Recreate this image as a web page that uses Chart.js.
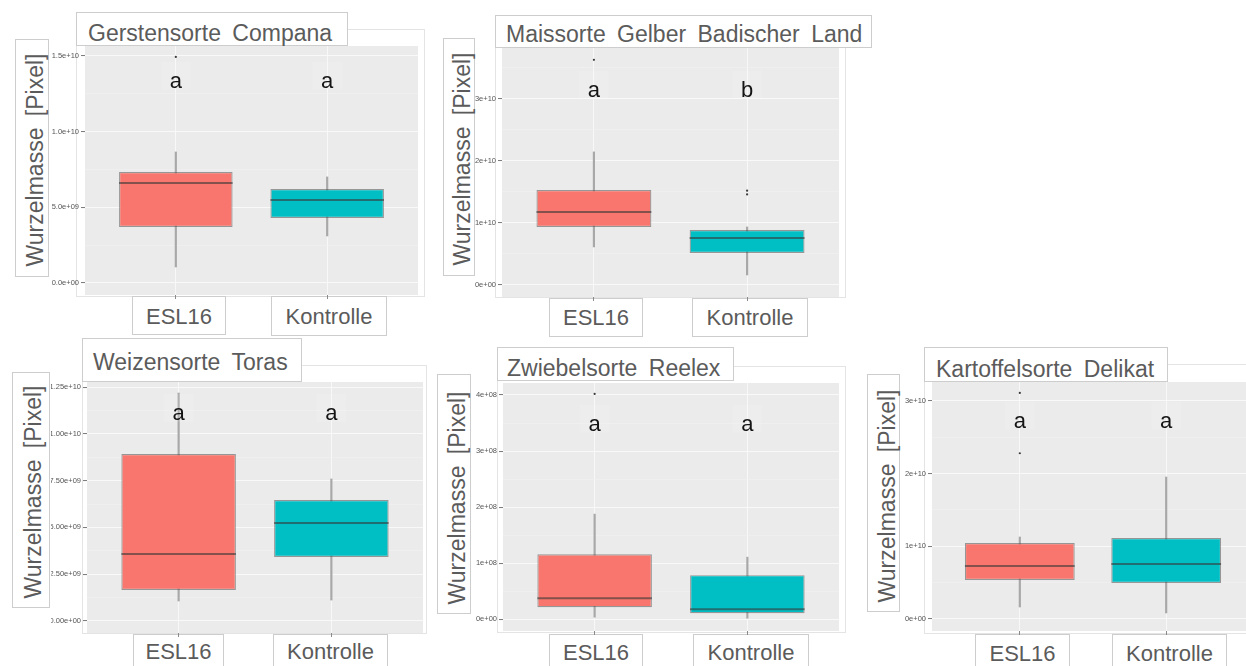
<!doctype html>
<html lang="de">
<head>
<meta charset="utf-8">
<title>Wurzelmasse</title>
<style>
  html, body { margin: 0; padding: 0; background: #fff; }
  body { width: 1246px; height: 666px; position: relative; overflow: hidden;
         font-family: "Liberation Sans", Arial, sans-serif; }
  .frame { position: absolute; border: 1px solid #e4e4e4; box-sizing: border-box; }
  .tbox { position: absolute; background: #fff; border: 1px solid #cdcdcd; box-sizing: border-box; }
  .txt { position: absolute; white-space: nowrap; color: #5b5b5b; }
  .title { font-size: 23px; line-height: 26px; word-spacing: 5px; }
  .ytitle { font-size: 23px; line-height: 26px; word-spacing: 5px; transform: translate(-50%, -50%) rotate(-90deg); }
  .xlab { font-size: 22px; line-height: 25px; transform: translateX(-50%); }
  canvas { position: absolute; }
</style>
</head>
<body>

<script src="https://cdn.jsdelivr.net/npm/chart.js"></script>
<script>
  // ---- data ----
  const categories = ['ESL16', 'Kontrolle'];
  const yAxisTitle = 'Wurzelmasse [Pixel]';

  // Gerstensorte Compana
  const gersteWhiskerLow  = [1.06e9, 3.11e9];
  const gersteQ1          = [3.70e9, 4.30e9];
  const gersteMedian      = [6.61e9, 5.49e9];
  const gersteQ3          = [7.34e9, 6.21e9];
  const gersteWhiskerHigh = [8.66e9, 7.01e9];
  const gersteOutliers    = [[1.494e10], []];
  const gersteLetters     = ['a', 'a'];
  const gersteTicks       = [0, 5e9, 1e10, 1.5e10];
  const gersteTickLabels  = ['0.0e+00', '5.0e+09', '1.0e+10', '1.5e+10'];

  // Maissorte Gelber Badischer Land
  const maisWhiskerLow  = [6.13e9, 1.61e9];
  const maisQ1          = [9.35e9, 5.16e9];
  const maisMedian      = [1.177e10, 7.58e9];
  const maisQ3          = [1.532e10, 8.87e9];
  const maisWhiskerHigh = [2.145e10, 9.35e9];
  const maisOutliers    = [[3.63e10], [1.52e10, 1.46e10]];
  const maisLetters     = ['a', 'b'];
  const maisTicks       = [0, 1e10, 2e10, 3e10];
  const maisTickLabels  = ['0e+00', '1e+10', '2e+10', '3e+10'];

  // Weizensorte Toras
  const weizenWhiskerLow  = [1.07e9, 1.12e9];
  const weizenQ1          = [1.66e9, 3.42e9];
  const weizenMedian      = [3.58e9, 5.24e9];
  const weizenQ3          = [8.92e9, 6.46e9];
  const weizenWhiskerHigh = [1.218e10, 7.59e9];
  const weizenOutliers    = [[], []];
  const weizenLetters     = ['a', 'a'];
  const weizenTicks       = [0, 2.5e9, 5e9, 7.5e9, 1e10, 1.25e10];
  const weizenTickLabels  = ['0.00e+00', '2.50e+09', '5.00e+09', '7.50e+09', '1.00e+10', '1.25e+10'];

  // Zwiebelsorte Reelex
  const zwiebelWhiskerLow  = [3.6e6, 1.8e6];
  const zwiebelQ1          = [2.14e7, 1.07e7];
  const zwiebelMedian      = [3.75e7, 1.79e7];
  const zwiebelQ3          = [1.16e8, 7.86e7];
  const zwiebelWhiskerHigh = [1.875e8, 1.107e8];
  const zwiebelOutliers    = [[4.02e8], []];
  const zwiebelLetters     = ['a', 'a'];
  const zwiebelTicks       = [0, 1e8, 2e8, 3e8, 4e8];
  const zwiebelTickLabels  = ['0e+00', '1e+08', '2e+08', '3e+08', '4e+08'];

  // Kartoffelsorte Delikat
  const kartoffelWhiskerLow  = [1.65e9, 8.3e8];
  const kartoffelQ1          = [5.36e9, 4.95e9];
  const kartoffelMedian      = [7.29e9, 7.57e9];
  const kartoffelQ3          = [1.045e10, 1.114e10];
  const kartoffelWhiskerHigh = [1.128e10, 1.953e10];
  const kartoffelOutliers    = [[3.11e10, 2.28e10], []];
  const kartoffelLetters     = ['a', 'a'];
  const kartoffelTicks       = [0, 1e10, 2e10, 3e10];
  const kartoffelTickLabels  = ['0e+00', '1e+10', '2e+10', '3e+10'];

  const fillColors = ['#F8766D', '#00BFC4'];

  // ---- where each panel sits on the slide ----
  const panels = [
    { title: 'Gerstensorte Compana', plot: [85, 46, 422, 295], yRange: [-0.79e9, 1.566e10], letterBase: 1.289e10,
      titleBox: [76, 12, 348, 46], titleText: [88, 33], frame: [76, 29, 425, 297],
      yBox: [15, 39, 49, 277], yText: [34.5, 160], xBoxes: [[132, 296, 226, 335], [271, 296, 387, 336]], xTextY: 316,
      low: gersteWhiskerLow, q1: gersteQ1, med: gersteMedian, q3: gersteQ3, high: gersteWhiskerHigh,
      out: gersteOutliers, letters: gersteLetters, ticks: gersteTicks, tickLabels: gersteTickLabels },
    { title: 'Maissorte Gelber Badischer Land', plot: [502, 48, 843, 297], yRange: [-1.94e9, 3.82e10], letterBase: 3.03e10,
      titleBox: [495, 15, 872, 48], titleText: [506, 33.5], frame: [495, 40, 846, 298],
      yBox: [443, 38, 475, 276], yText: [461.5, 159], xBoxes: [[549, 298, 643, 337], [692, 298, 808, 337]], xTextY: 317,
      low: maisWhiskerLow, q1: maisQ1, med: maisMedian, q3: maisQ3, high: maisWhiskerHigh,
      out: maisOutliers, letters: maisLetters, ticks: maisTicks, tickLabels: maisTickLabels },
    { title: 'Weizensorte Toras', plot: [87, 382, 423, 633], yRange: [-0.64e9, 1.277e10], letterBase: 1.074e10,
      titleBox: [82, 338, 302, 382], titleText: [93, 362], frame: [82, 365, 427, 634],
      yBox: [12, 372, 50, 608], yText: [33, 492], xBoxes: [[133, 634, 224, 690], [273, 634, 388, 690]], xTextY: 651,
      low: weizenWhiskerLow, q1: weizenQ1, med: weizenMedian, q3: weizenQ3, high: weizenWhiskerHigh,
      out: weizenOutliers, letters: weizenLetters, ticks: weizenTicks, tickLabels: weizenTickLabels },
    { title: 'Zwiebelsorte Reelex', plot: [503, 383, 843, 631], yRange: [-0.21e8, 4.214e8], letterBase: 3.36e8,
      titleBox: [497, 347, 734, 381], titleText: [507, 368], frame: [497, 366, 846, 633],
      yBox: [437, 374, 471, 614], yText: [456.5, 497.5], xBoxes: [[549, 634, 643, 690], [693, 634, 809, 690]], xTextY: 652,
      low: zwiebelWhiskerLow, q1: zwiebelQ1, med: zwiebelMedian, q3: zwiebelQ3, high: zwiebelWhiskerHigh,
      out: zwiebelOutliers, letters: zwiebelLetters, ticks: zwiebelTicks, tickLabels: zwiebelTickLabels },
    { title: 'Kartoffelsorte Delikat', plot: [932, 382, 1258, 631], yRange: [-1.65e9, 3.26e10], letterBase: 2.63e10,
      titleBox: [924, 347, 1168, 382], titleText: [936, 369], frame: [924, 364, 1262, 634],
      yBox: [867, 374, 900, 612], yText: [887, 495.5], xBoxes: [[975, 634, 1070, 690], [1112, 634, 1227, 690]], xTextY: 653,
      low: kartoffelWhiskerLow, q1: kartoffelQ1, med: kartoffelMedian, q3: kartoffelQ3, high: kartoffelWhiskerHigh,
      out: kartoffelOutliers, letters: kartoffelLetters, ticks: kartoffelTicks, tickLabels: kartoffelTickLabels }
  ];

  function addRect(cls, r) {
    const d = document.createElement('div');
    d.className = cls;
    d.style.left = r[0] + 'px';
    d.style.top = r[1] + 'px';
    d.style.width = (r[2] - r[0]) + 'px';
    d.style.height = (r[3] - r[1]) + 'px';
    document.body.appendChild(d);
  }

  function addText(cls, x, y, text) {
    const d = document.createElement('div');
    d.className = 'txt ' + cls;
    d.style.left = x + 'px';
    d.style.top = y + 'px';
    d.textContent = text;
    document.body.appendChild(d);
  }

  // grey panel background
  const panelBg = {
    id: 'panelBg',
    beforeDraw: function (chart) {
      const a = chart.chartArea;
      const ctx = chart.ctx;
      ctx.save();
      ctx.fillStyle = '#ebebeb';
      ctx.fillRect(a.left, a.top, a.right - a.left, a.bottom - a.top);
      ctx.restore();
    }
  };

  // significance letters above the boxes
  const letterLabels = {
    id: 'letterLabels',
    afterDatasetsDraw: function (chart, args, opts) {
      const ctx = chart.ctx;
      const xs = chart.scales.x;
      const ys = chart.scales.y;
      const y = ys.getPixelForValue(opts.base);
      ctx.save();
      opts.letters.forEach(function (letter, i) {
        const x = xs.getPixelForValue(i + 1);
        ctx.fillStyle = 'rgba(255,255,255,0.1)';
        ctx.fillRect(x - 15, y - 26, 30, 28);
        ctx.fillStyle = '#151515';
        ctx.font = '22px "Liberation Sans", Arial, sans-serif';
        ctx.textAlign = 'center';
        ctx.textBaseline = 'alphabetic';
        ctx.fillText(letter, x, y);
      });
      ctx.restore();
    }
  };

  function drawPanel(p, n) {
    addRect('frame', p.frame);
    addRect('tbox', p.titleBox);
    addText('title', p.titleText[0], p.titleText[1] - 12.75, p.title);
    addRect('tbox', p.yBox);
    addText('ytitle', p.yText[0], p.yText[1], yAxisTitle);
    p.xBoxes.forEach(function (b, i) {
      addRect('tbox', b);
      addText('xlab', (b[0] + b[2]) / 2, p.xTextY - 12.2, categories[i]);
    });

    const L = p.plot[0], T = p.plot[1], R = p.plot[2], B = p.plot[3];
    const canvas = document.createElement('canvas');
    canvas.id = 'panel' + n;
    canvas.width = (R - L) + 52;
    canvas.height = (B - T) + 24;
    canvas.style.left = (L - 52) + 'px';
    canvas.style.top = (T - 10) + 'px';
    document.body.appendChild(canvas);

    const boxes = [], whiskers = [], medians = [], outliers = [];
    categories.forEach(function (c, i) {
      boxes.push({ x: i + 1, y: [p.q1[i], p.q3[i]] });
      whiskers.push({ x: i + 1, y: [p.low[i], p.high[i]] });
      medians.push({ x: i + 1, y: p.med[i] });
      p.out[i].forEach(function (v) { outliers.push({ x: i + 1, y: v }); });
    });

    const isMajor = function (ctx) { return ctx.tick && p.ticks.indexOf(ctx.tick.value) >= 0; };
    const halfBox = function (ctx) {
      const s = ctx.chart.scales.x;
      return Math.abs(s.getPixelForValue(1.375) - s.getPixelForValue(1));
    };

    const data = {
      datasets: [
        { type: 'bar', data: whiskers, grouped: false, order: 3, barThickness: 1.5,
          backgroundColor: '#a8a8a8', borderWidth: 0 },
        { type: 'bar', data: boxes, grouped: false, order: 2, categoryPercentage: 1, barPercentage: 0.75,
          backgroundColor: fillColors, borderColor: 'rgba(80,80,80,0.55)', borderWidth: 1.2, borderSkipped: false },
        { type: 'scatter', data: medians, order: 1, pointStyle: 'line', pointRadius: halfBox,
          pointBorderColor: 'rgba(55,55,55,0.6)', pointBorderWidth: 2 },
        { type: 'scatter', data: outliers, order: 0, pointStyle: 'circle', pointRadius: 1.1,
          pointBackgroundColor: '#3a3a3a', pointBorderWidth: 0 }
      ]
    };

    const config = {
      type: 'bar',
      data: data,
      plugins: [panelBg, letterLabels],
      options: {
        responsive: false,
        animation: false,
        devicePixelRatio: 1,
        events: [],
        layout: { padding: { left: 16, top: 10, right: 0, bottom: 10 } },
        plugins: {
          legend: { display: false },
          tooltip: { enabled: false },
          letterLabels: { letters: p.letters, base: p.letterBase }
        },
        scales: {
          x: {
            type: 'linear', min: 0.4, max: 2.6, offset: false,
            afterBuildTicks: function (scale) { scale.ticks = categories.map(function (c, i) { return { value: i + 1 }; }); },
            afterFit: function (scale) { scale.height = 4; },
            ticks: { display: false },
            grid: { offset: false, color: '#f8f8f8', lineWidth: 1, drawTicks: true, tickLength: 4, tickColor: '#8a8a8a', tickWidth: 1 },
            border: { display: false }
          },
          y: {
            type: 'linear', min: p.yRange[0], max: p.yRange[1],
            afterBuildTicks: function (scale) {
              const t = [];
              const step = p.ticks[1] - p.ticks[0];
              p.ticks.forEach(function (v) {
                t.push({ value: v });
                if (v + step / 2 < scale.max) t.push({ value: v + step / 2 });
              });
              scale.ticks = t;
            },
            afterFit: function (scale) { scale.width = 36; },
            ticks: {
              autoSkip: false, padding: 2, color: '#555',
              font: { size: 7.5, family: '"Liberation Sans", Arial, sans-serif' },
              callback: function (value) {
                const i = p.ticks.indexOf(value);
                return i >= 0 ? p.tickLabels[i] : '';
              }
            },
            grid: {
              color: function (ctx) { return isMajor(ctx) ? '#f9f9f9' : '#f1f1f1'; },
              lineWidth: function (ctx) { return isMajor(ctx) ? 1.1 : 0.7; },
              drawTicks: true, tickLength: 4, tickWidth: 1,
              tickColor: function (ctx) { return isMajor(ctx) ? '#777' : 'rgba(0,0,0,0)'; }
            },
            border: { display: false }
          }
        }
      }
    };

    new Chart(canvas, config);
  }

  panels.forEach(drawPanel);
</script>
</body>
</html>
